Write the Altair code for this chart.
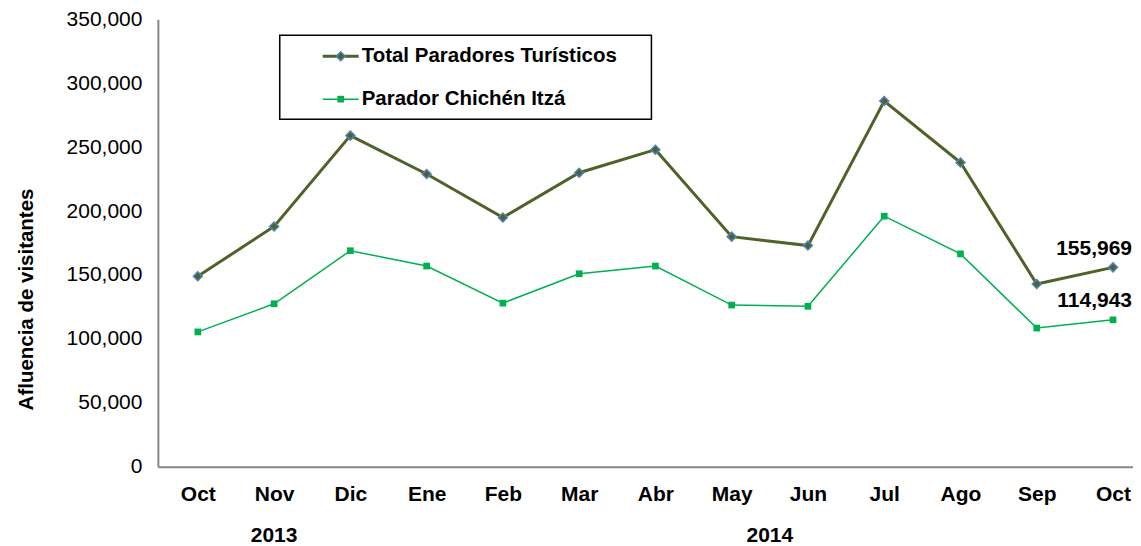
import altair as alt
import pandas as pd

months = ["Oct", "Nov", "Dic", "Ene", "Feb", "Mar", "Abr", "May", "Jun", "Jul", "Ago", "Sep", "Oct"]
total = [149000, 188000, 259000, 229000, 195000, 230000, 248000, 180000, 173000, 286000, 238000, 143000, 155969]
chichen = [105500, 127500, 169000, 157000, 128000, 151000, 157000, 126500, 125500, 196000, 166500, 108500, 114943]
series = ["Total Paradores Turísticos", "Parador Chichén Itzá"]
years = ["2013", "2014"]
year_pos = [1, 7.5]

FONT = "Liberation Sans"
C_TOT = "#4F6228"
C_TOT_EDGE = "#4F81BD"
C_CHI = "#00B050"
AX = "#868686"

idx = list(range(len(months)))
df_tot = pd.DataFrame({"i": idx, "v": total})
df_chi = pd.DataFrame({"i": idx, "v": chichen})
df_years = pd.DataFrame({"year": years, "pos": year_pos})

month_expr = "[" + ",".join("'%s'" % m for m in months) + "][datum.value]"

x_scale = alt.Scale(domain=[-0.524, 12.262], nice=False, zero=False)
y_scale = alt.Scale(domain=[0, 350000], nice=False)

x_enc = alt.X("i:Q", scale=x_scale, axis=alt.Axis(
    values=idx, labelExpr=month_expr, title=None, grid=False, ticks=False,
    domainColor=AX, domainWidth=2, labelFont=FONT, labelFontSize=21,
    labelFontWeight="bold", labelColor="black", labelPadding=17, labelFlush=False))
y_enc = alt.Y("v:Q", scale=y_scale, axis=alt.Axis(
    values=list(range(0, 350001, 50000)), format=",d", title="Afluencia de visitantes",
    grid=False, ticks=False, domainColor=AX, domainWidth=2,
    labelFont=FONT, labelFontSize=21, labelColor="black", labelPadding=16,
    titleFont=FONT, titleFontSize=20.5, titleFontWeight="bold", titleColor="black",
    titleAngle=270, titleX=-125, titleY=280, titleAlign="center",
    titleBaseline="alphabetic"))

line_tot = alt.Chart(df_tot).mark_line(color=C_TOT, strokeWidth=3).encode(x=x_enc, y=y_enc)
pts_tot = alt.Chart(df_tot).mark_point(shape="diamond", filled=True, fill=C_TOT, stroke=C_TOT_EDGE,
                                       strokeWidth=1.5, size=80, opacity=1).encode(x="i:Q", y="v:Q")
line_chi = alt.Chart(df_chi).mark_line(color=C_CHI, strokeWidth=1.5).encode(x="i:Q", y="v:Q")
pts_chi = alt.Chart(df_chi).mark_point(shape="square", filled=True, fill=C_CHI, size=45,
                                       opacity=1).encode(x="i:Q", y="v:Q")

last_tot = alt.Chart(df_tot.tail(1)).mark_text(font=FONT, fontSize=21, fontWeight="bold", color="black",
                                               align="right", dx=19, dy=-18, baseline="middle").encode(
    x="i:Q", y="v:Q", text=alt.Text("v:Q", format=",d"))
last_chi = alt.Chart(df_chi.tail(1)).mark_text(font=FONT, fontSize=21, fontWeight="bold", color="black",
                                               align="right", dx=19, dy=-19, baseline="middle").encode(
    x="i:Q", y="v:Q", text=alt.Text("v:Q", format=",d"))

year_text = alt.Chart(df_years).mark_text(font=FONT, fontSize=21, fontWeight="bold", color="black",
                                          baseline="middle").encode(
    x="pos:Q", y=alt.value(517), text="year:N")

# legend box
one = pd.DataFrame({"k": [0]})
box = alt.Chart(one).mark_rect(fill="white", stroke="black", strokeWidth=1.5).encode(
    x=alt.value(122), x2=alt.value(494), y=alt.value(16), y2=alt.value(100))

leg_layers = []
leg_specs = [
    (series[0], 37, C_TOT, 3, dict(shape="diamond", fill=C_TOT, stroke=C_TOT_EDGE, strokeWidth=1.5, size=80)),
    (series[1], 80, C_CHI, 1.5, dict(shape="square", fill=C_CHI, size=45)),
]
for name, yy, col, sw, mk in leg_specs:
    d = pd.DataFrame({"name": [name]})
    leg_layers.append(alt.Chart(d).mark_rule(color=col, strokeWidth=sw).encode(
        x=alt.value(165), x2=alt.value(201), y=alt.value(yy)))
    leg_layers.append(alt.Chart(d).mark_point(filled=True, opacity=1, **mk).encode(
        x=alt.value(183), y=alt.value(yy)))
    leg_layers.append(alt.Chart(d).mark_text(font=FONT, fontSize=20.5, fontWeight="bold", color="black",
                                             align="left", baseline="middle").encode(
        x=alt.value(204), y=alt.value(yy), text="name:N"))

chart = alt.layer(line_tot, line_chi, pts_tot, pts_chi, last_tot, last_chi, year_text, box, *leg_layers).properties(
    width=976, height=448, padding={"left": 9, "top": 0, "right": 0, "bottom": 0},
    background="white"
).configure_view(stroke=None)

chart.save("out.html", embed_options={"renderer": "svg", "actions": False})
